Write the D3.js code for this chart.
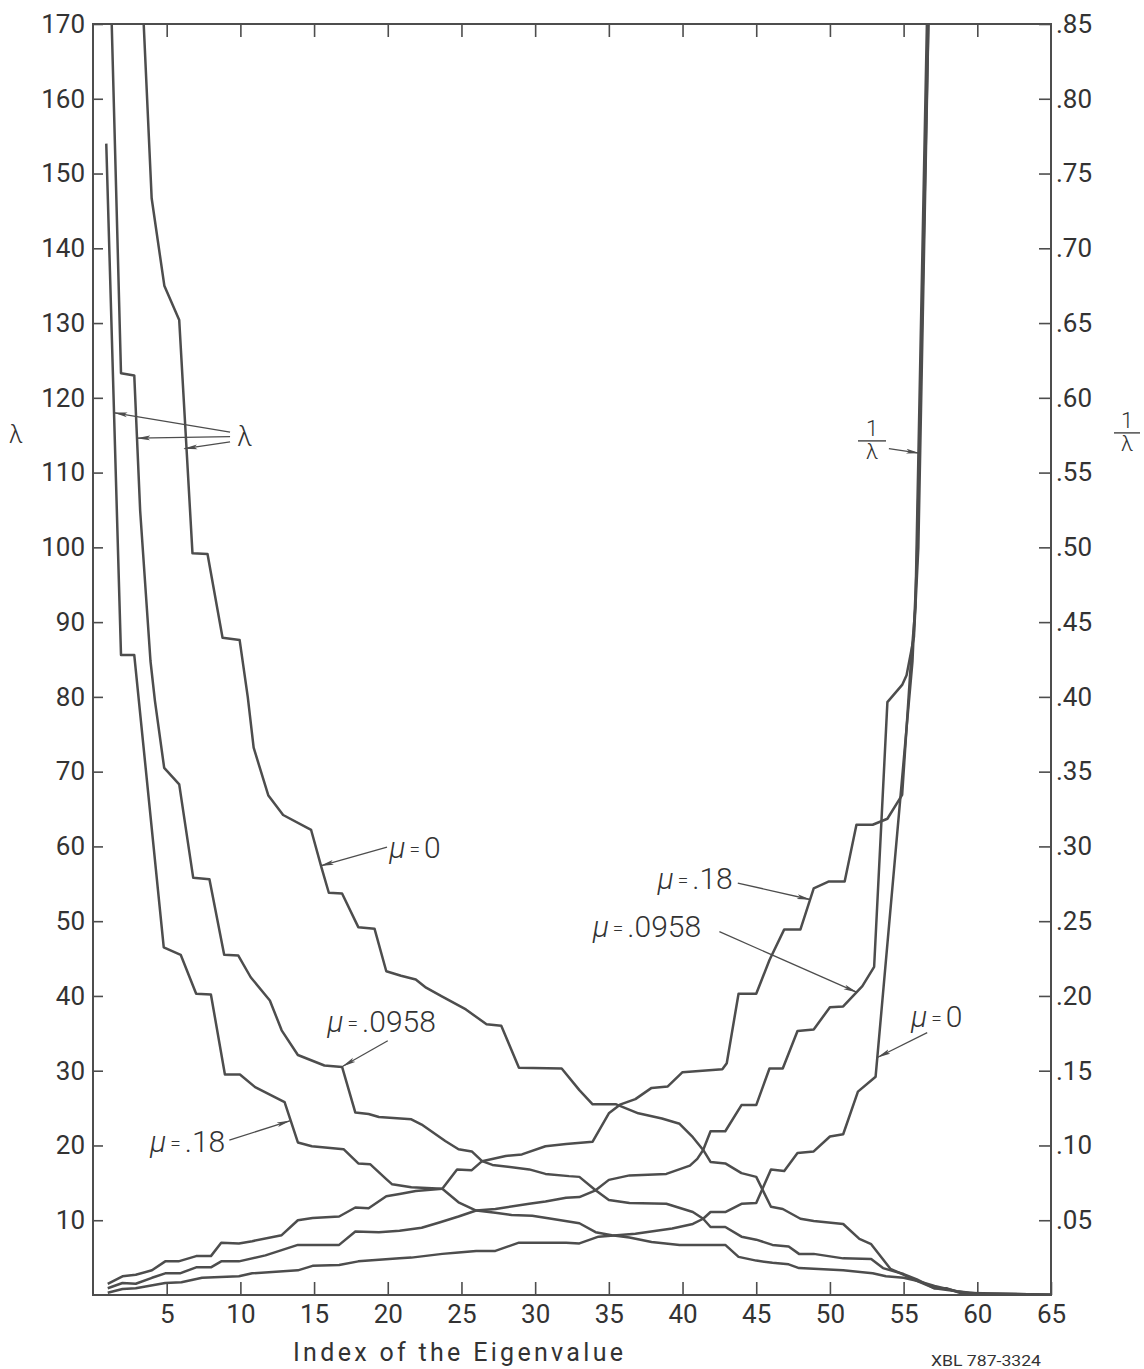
<!DOCTYPE html>
<html>
<head>
<meta charset="utf-8">
<script src="https://cdn.jsdelivr.net/npm/d3@7"></script>
<style>
  html, body { margin: 0; padding: 0; background: #fff; }
  svg { display: block; font-family: Roboto, "Noto Sans", sans-serif; }
</style>
</head>
<body>
<svg id="chart" width="1144" height="1369"></svg>
<script>
// lambda curves (falling), [index, lambda]
const lambdaMu0 = [[3.44,170],[3.98,146.7],[4.84,135],[5.85,130.4],[6.75,99.2],[7.77,99.1],[8.79,87.9],[9.95,87.6],[10.5,80],[10.9,73.2],[11.9,66.8],[12.9,64.2],[14.8,62.2],[15.5,57.2],[16.0,53.8],[16.9,53.7],[18.0,49.2],[19.1,49.0],[19.9,43.3],[20.9,42.7],[21.9,42.2],[22.6,41.1],[23.7,39.9],[25.3,38.2],[26.7,36.2],[27.7,36.0],[28.9,30.4],[31.8,30.3],[33.0,27.4],[33.9,25.5],[35.5,25.5],[37.0,24.3],[38.6,23.6],[39.8,22.9],[40.7,21.1],[41.4,19.4],[41.9,17.8],[42.9,17.6],[44.0,16.3],[45.0,15.8],[46.0,11.8],[46.8,11.5],[48.0,10.2],[48.9,9.9],[50.9,9.5],[52.0,7.5],[52.8,6.8],[54.1,3.5],[54.8,2.9],[55.9,1.9],[57.1,0.9],[57.9,0.9],[58.8,0.3],[65,0.05]];
const lambdaMu0958 = [[1.27,170],[1.9,123.3],[2.8,123],[3.2,104.9],[3.9,84.8],[4.2,79.5],[4.83,70.5],[5.85,68.3],[6.8,55.8],[7.9,55.6],[8.9,45.5],[9.86,45.4],[10.7,42.5],[12.0,39.4],[12.8,35.4],[13.9,32.1],[15.7,30.7],[16.9,30.5],[17.8,24.4],[18.7,24.2],[19.4,23.8],[21.6,23.5],[22.3,22.8],[23.9,20.6],[24.8,19.5],[25.7,19.2],[26.4,17.9],[27.1,17.4],[29.6,16.8],[30.7,16.2],[32.3,15.9],[33.0,15.8],[34.1,14.0],[35.0,12.7],[36.4,12.3],[38.9,12.2],[40.7,11.1],[41.4,10.2],[41.9,9.1],[42.9,9.1],[44.0,7.8],[45.0,7.4],[46.1,6.7],[47.2,6.5],[47.9,5.5],[48.9,5.5],[50.9,4.9],[52.8,4.8],[53.6,3.6],[55.0,2.8],[55.9,2.1],[57.1,0.9],[58.6,0.5],[60,0.2],[65,0.05]];
const lambdaMu18 = [[0.9,154],[1.9,85.6],[2.8,85.6],[4.8,46.5],[5.95,45.5],[7.0,40.3],[8.0,40.2],[8.95,29.5],[9.97,29.5],[11.0,27.8],[13.0,25.8],[13.9,20.4],[14.85,19.9],[17.0,19.5],[18.0,17.6],[18.8,17.5],[19.9,15.5],[20.3,14.8],[21.6,14.4],[23.7,14.2],[24.8,12.4],[26.0,11.3],[27.3,11.0],[28.4,10.7],[29.8,10.6],[31.1,10.2],[33.0,9.6],[34.1,8.4],[35.2,8.0],[36.4,7.7],[37.9,7.1],[39.8,6.7],[42.9,6.7],[43.8,5.1],[45.0,4.6],[46.1,4.3],[47.2,4.1],[47.9,3.6],[48.9,3.5],[50.9,3.3],[52.9,2.9],[53.8,2.5],[55.0,2.3],[55.9,1.9],[57.1,1.2],[58.6,0.5],[59.9,0.1],[65,0.05]];

// 1/lambda curves (rising), [index, 1/lambda]
const invMu0 = [[1.0,.0015],[2.0,.004],[2.9,.0045],[4.9,.008],[6.0,.0085],[7.4,.0115],[9.9,.0125],[10.8,.0145],[13.9,.0165],[14.9,.0195],[16.7,.020],[18.0,.0225],[20.8,.0245],[21.6,.025],[23.7,.0275],[24.8,.0285],[26.0,.0295],[27.3,.0295],[28.9,.035],[32.1,.035],[33.0,.0345],[34.3,.039],[36.8,.041],[39.3,.0445],[40.7,.0475],[41.4,.051],[41.9,.0555],[42.9,.0555],[44.0,.061],[45.0,.0615],[46.0,.084],[46.9,.083],[47.8,.095],[48.9,.096],[50.0,.106],[50.9,.1075],[51.9,.136],[53.1,.146],[55.6,.4235],[55.9,.49],[56.7,.86]];
const invMu0958 = [[1.0,.0045],[2.0,.008],[2.9,.0075],[4.0,.0115],[4.9,.0145],[5.9,.0145],[7.0,.0185],[8.0,.0185],[8.7,.0225],[9.9,.0225],[11.7,.0265],[12.8,.030],[13.9,.0335],[16.7,.0335],[17.8,.0425],[19.4,.042],[20.8,.043],[22.3,.045],[23.5,.0485],[24.8,.0525],[26.0,.0565],[27.3,.0575],[29.6,.061],[30.7,.0625],[32.1,.065],[33.0,.0655],[34.1,.070],[35.0,.077],[36.4,.080],[38.9,.081],[40.5,.0865],[41.0,.091],[41.4,.097],[41.9,.1095],[42.9,.1095],[44.0,.127],[45.0,.127],[45.9,.1515],[46.8,.1515],[47.8,.1765],[48.9,.1775],[50.0,.1925],[50.9,.193],[52.2,.2065],[53.0,.2195],[53.9,.3965],[54.9,.408],[55.2,.4145],[55.7,.44],[56.0,.50],[56.7,.86]];
const invMu18 = [[1.0,.0075],[2.0,.0125],[2.9,.0135],[4.0,.0165],[4.9,.0225],[5.8,.0225],[7.0,.026],[8.0,.026],[8.7,.035],[9.9,.0345],[10.8,.036],[12.8,.040],[13.9,.050],[14.9,.0515],[16.7,.0525],[17.8,.0585],[18.7,.058],[19.9,.066],[20.8,.0675],[21.9,.0695],[23.7,.071],[24.7,.084],[25.7,.0835],[26.4,.0895],[28.0,.093],[29.1,.094],[30.7,.0995],[32.1,.101],[33.9,.1025],[35.0,.1215],[35.8,.1275],[36.8,.131],[37.9,.1385],[39.0,.1395],[40.0,.149],[42.7,.151],[43.0,.155],[43.8,.2015],[45.0,.2015],[45.9,.224],[46.9,.2445],[48.0,.2445],[48.9,.272],[49.9,.2765],[51.0,.2765],[51.8,.3145],[52.9,.3145],[53.9,.3185],[54.9,.3345],[55.5,.424],[55.8,.46],[56.6,.86]];

// ticks
const xTicks = [5,10,15,20,25,30,35,40,45,50,55,60,65];
const lambdaTicks = [10,20,30,40,50,60,70,80,90,100,110,120,130,140,150,160,170];
const invTicks = [.05,.10,.15,.20,.25,.30,.35,.40,.45,.50,.55,.60,.65,.70,.75,.80,.85];

// curve labels: mu value, text anchor and arrow (index, lambda-scale units)
const muLabels = [
  { mu: '0',     at: [20.1, 58.5], from: [19.95, 59.9], to: [15.45, 57.4] },
  { mu: '.0958', at: [15.9, 35.2], from: [20.0, 34.0],  to: [16.95, 30.6] },
  { mu: '.18',   at: [3.87, 19.1], from: [9.25, 20.7],  to: [13.35, 23.3] },
  { mu: '.18',   at: [38.3, 54.3], from: [43.75, 55.1], to: [48.65, 52.9] },
  { mu: '.0958', at: [33.9, 47.9], from: [42.5, 48.6],  to: [51.8, 40.5] },
  { mu: '0',     at: [55.5, 35.8], from: [56.6, 35.1],  to: [53.25, 31.8] }
];
const lambdaArrows = [
  { from: [9.3, 115.4], to: [1.45, 118.0] },
  { from: [9.3, 114.8], to: [3.0, 114.6] },
  { from: [9.3, 114.1], to: [6.2, 113.2] }
];

const ink = '#4d4d4d';
const svg = d3.select('#chart');

const x = d3.scaleLinear().domain([0, 65]).range([93, 1051]);
const y = d3.scaleLinear().domain([0, 170]).range([1295, 24]);
const yInv = d3.scaleLinear().domain([0, 0.85]).range([1295, 24]);

const defs = svg.append('defs');
defs.append('clipPath').attr('id', 'plot')
  .append('rect')
  .attr('x', x(0)).attr('y', y(170))
  .attr('width', x(65) - x(0)).attr('height', y(0) - y(170));

defs.append('marker')
  .attr('id', 'arrow')
  .attr('viewBox', '0 0 14 6')
  .attr('refX', 13).attr('refY', 3)
  .attr('markerWidth', 14).attr('markerHeight', 6)
  .attr('markerUnits', 'userSpaceOnUse')
  .attr('orient', 'auto')
  .append('path')
  .attr('d', 'M0,0.6 L14,3 L0,5.4 L3,3 Z')
  .attr('fill', ink);

// axes
const fmtInv = d => d3.format('.2f')(d).replace(/^0/, '');

const gLeft = svg.append('g')
  .attr('transform', `translate(${x(0)},0)`)
  .call(d3.axisLeft(y).tickValues(lambdaTicks).tickSizeInner(-10).tickSizeOuter(0).tickPadding(8));

const gRight = svg.append('g')
  .attr('transform', `translate(${x(65)},0)`)
  .call(d3.axisRight(yInv).tickValues(invTicks).tickFormat(fmtInv).tickSizeInner(-12).tickSizeOuter(0).tickPadding(5));

const gBottom = svg.append('g')
  .attr('transform', `translate(0,${y(0)})`)
  .call(d3.axisBottom(x).tickValues(xTicks).tickSizeInner(-13).tickSizeOuter(0).tickPadding(8));

const gTop = svg.append('g')
  .attr('transform', `translate(0,${y(170)})`)
  .call(d3.axisTop(x).tickValues(xTicks.slice(0, -1)).tickFormat('').tickSizeInner(-13).tickSizeOuter(0));

[gLeft, gRight, gBottom, gTop].forEach(g => {
  g.select('.domain').remove();
  g.selectAll('.tick line').attr('stroke', ink).attr('stroke-width', 1.6);
  g.selectAll('.tick text')
    .attr('fill', '#333')
    .style('font-size', '26px')
    .style('font-weight', 400)
    .style('font-family', 'Roboto, "Noto Sans", sans-serif');
});
gBottom.selectAll('.tick text').attr('dy', '0.75em');

svg.append('rect')
  .attr('x', x(0)).attr('y', y(170))
  .attr('width', x(65) - x(0)).attr('height', y(0) - y(170))
  .attr('fill', 'none')
  .attr('stroke', ink)
  .attr('stroke-width', 2);

// curves
const line = d3.line().x(d => x(d[0])).y(d => y(d[1]));
const lineInv = d3.line().x(d => x(d[0])).y(d => yInv(d[1]));

const curves = svg.append('g').attr('clip-path', 'url(#plot)');
[lambdaMu0, lambdaMu0958, lambdaMu18].forEach(s => {
  curves.append('path').datum(s)
    .attr('d', line)
    .attr('fill', 'none')
    .attr('stroke', ink)
    .attr('stroke-width', 2.5)
    .attr('stroke-linejoin', 'round');
});
[invMu0, invMu0958, invMu18].forEach(s => {
  curves.append('path').datum(s)
    .attr('d', lineInv)
    .attr('fill', 'none')
    .attr('stroke', ink)
    .attr('stroke-width', 2.5)
    .attr('stroke-linejoin', 'round');
});

// annotations
const notes = svg.append('g').attr('fill', '#333');

function arrow(from, to) {
  notes.append('line')
    .attr('x1', x(from[0])).attr('y1', y(from[1]))
    .attr('x2', x(to[0])).attr('y2', y(to[1]))
    .attr('stroke', ink)
    .attr('stroke-width', 1.3)
    .attr('marker-end', 'url(#arrow)');
}

muLabels.forEach(l => {
  const t = notes.append('text')
    .attr('x', x(l.at[0])).attr('y', y(l.at[1]))
    .style('font-size', '30px')
    .style('font-weight', 300);
  t.append('tspan').attr('font-style', 'italic').text('μ');
  t.append('tspan').attr('dx', 4).attr('dy', -2).style('font-size', '19px').text('=');
  t.append('tspan').attr('dx', 4).attr('dy', 2).text(l.mu);
  arrow(l.from, l.to);
});

lambdaArrows.forEach(a => arrow(a.from, a.to));
notes.append('text')
  .attr('x', x(10.3)).attr('y', y(113.6))
  .attr('text-anchor', 'middle')
  .style('font-size', '27px')
  .style('font-weight', 300)
  .text('λ');

function fraction(cx, top, size, barW) {
  const g = notes.append('g');
  g.append('text').attr('x', cx).attr('y', top + size * 0.72)
    .attr('text-anchor', 'middle').style('font-size', size + 'px').style('font-weight', 300).text('1');
  g.append('line').attr('x1', cx - barW / 2).attr('x2', cx + barW / 2)
    .attr('y1', top + size * 0.95).attr('y2', top + size * 0.95)
    .attr('stroke', '#333').attr('stroke-width', 1.3);
  g.append('text').attr('x', cx).attr('y', top + size * 1.75)
    .attr('text-anchor', 'middle').style('font-size', size + 'px').style('font-weight', 300).text('λ');
}

// 1/λ pointer inside the plot
fraction(872, 420, 22, 28);
arrow([54.0, 113.2], [56.05, 112.6]);

// axis titles
notes.append('text')
  .attr('x', 16).attr('y', 443)
  .attr('text-anchor', 'middle')
  .style('font-size', '25px')
  .style('font-weight', 300)
  .text('λ');
fraction(1127, 412, 22, 26);

notes.append('text')
  .attr('x', 293).attr('y', 1361)
  .attr('textLength', 330)
  .attr('lengthAdjust', 'spacing')
  .style('font-size', '25px')
  .style('font-weight', 400)
  .text('Index of the Eigenvalue');

notes.append('text')
  .attr('x', 931).attr('y', 1366)
  .attr('textLength', 110)
  .attr('lengthAdjust', 'spacingAndGlyphs')
  .style('font-size', '14px')
  .text('XBL 787-3324');
</script>
</body>
</html>
